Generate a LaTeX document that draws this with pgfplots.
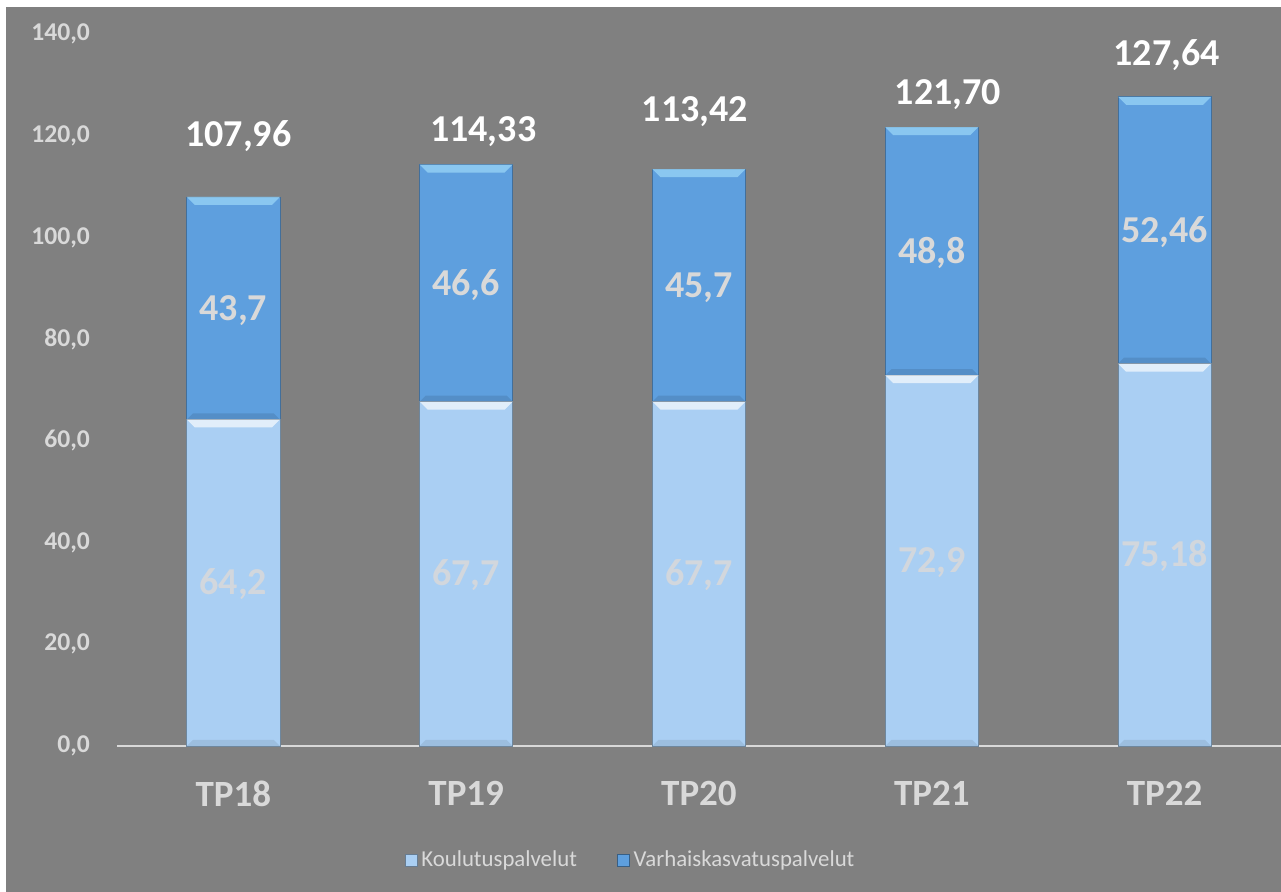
\documentclass[border=0pt]{standalone}
\usepackage{pgfplots}
\usepackage{pgfplotstable}
\pgfplotsset{compat=1.18}
\usepackage{fontspec}
\setmainfont{Carlito}

\definecolor{bggray}{RGB}{128,128,128}
\definecolor{darkblue}{RGB}{94,159,222}
\definecolor{lightblue}{RGB}{170,207,243}
\definecolor{labelgray}{RGB}{217,217,217}
\definecolor{glint}{RGB}{150,210,245}

% bevel strips for the bar edges (bar width 46.5pt)
\pgfdeclareplotmark{bevtop}{%
  \pgfpathmoveto{\pgfqpoint{-23.25pt}{0pt}}%
  \pgfpathlineto{\pgfqpoint{23.25pt}{0pt}}%
  \pgfpathlineto{\pgfqpoint{19.25pt}{-4pt}}%
  \pgfpathlineto{\pgfqpoint{-19.25pt}{-4pt}}%
  \pgfpathclose\pgfusepathqfill}
\pgfdeclareplotmark{bevbot}{%
  \pgfpathmoveto{\pgfqpoint{-23.25pt}{0pt}}%
  \pgfpathlineto{\pgfqpoint{23.25pt}{0pt}}%
  \pgfpathlineto{\pgfqpoint{20.25pt}{3pt}}%
  \pgfpathlineto{\pgfqpoint{-20.25pt}{3pt}}%
  \pgfpathclose\pgfusepathqfill}

\pgfplotstableread{
x total koulu zero
0 107.96 64.2 0
1 114.33 67.7 0
2 113.42 67.7 0
3 121.70 72.9 0
4 127.64 75.18 0
}\bars

\begin{document}
\begin{tikzpicture}
\fill[white] (0,0) rectangle (640.5pt,446pt);
\fill[bggray] (3pt,0) rectangle (640.5pt,442.5pt);
\begin{axis}[
at={(58.5pt,73pt)}, anchor=south west,
width=582pt, height=356pt, scale only axis,
clip=false,
xmin=-0.5, xmax=4.5,
ymin=0, ymax=140,
axis x line=bottom,
axis y line=left,
x axis line style={-, draw=labelgray, line width=1pt},
y axis line style={draw=none},
major tick length=0pt,
xtick={0,1,2,3,4},
xticklabels={TP18,TP19,TP20,TP21,TP22},
xticklabel style={font=\bfseries\fontsize{18.5}{20}\selectfont, text=labelgray, yshift=-14pt},
ytick={0,20,...,140},
yticklabel style={font=\bfseries\fontsize{12.8}{14}\selectfont, text=labelgray, xshift=-10pt,
  /pgf/number format/.cd, fixed, fixed zerofill, precision=1, use comma, assume math mode=true},
legend columns=2,
legend style={draw=none, fill=none, text=labelgray, font=\fontsize{11.4}{12}\selectfont,
  at={(0.442,-0.160)}, anchor=center,
  /tikz/every even column/.append style={column sep=18pt}},
legend image code/.code={\draw[#1] (0pt,-3pt) rectangle (6pt,3pt);},
]
\addlegendimage{fill=lightblue, draw=lightblue!60!black}
\addlegendentry{Koulutuspalvelut}
\addlegendimage{fill=darkblue, draw=darkblue!60!black}
\addlegendentry{Varhaiskasvatuspalvelut}

% Varhaiskasvatuspalvelut: bar reaches the total, lower part covered below
\addplot[ybar, bar width=46.5pt, bar shift=0pt, fill=darkblue, draw=darkblue!70!black, forget plot]
  table[x=x, y=total] {\bars};
% Koulutuspalvelut
\addplot[ybar, bar width=46.5pt, bar shift=0pt, fill=lightblue, draw=lightblue!65!black, forget plot]
  table[x=x, y=koulu] {\bars};

% bevel highlights and shadows
\addplot[only marks, mark=bevtop, mark options={fill=glint, fill opacity=0.8, draw=none}, forget plot]
  table[x=x, y=total] {\bars};
\addplot[only marks, mark=bevtop, mark options={fill=white, fill opacity=0.65, draw=none}, forget plot]
  table[x=x, y=koulu] {\bars};
\addplot[only marks, mark=bevbot, mark options={fill=black, fill opacity=0.10, draw=none}, forget plot]
  table[x=x, y=koulu] {\bars};
\addplot[only marks, mark=bevbot, mark options={fill=black, fill opacity=0.08, draw=none}, forget plot]
  table[x=x, y=zero] {\bars};

% totals, placed as in the source chart
\addplot[draw=none, mark=none, forget plot,
  nodes near coords, point meta=explicit symbolic,
  every node near coord/.style={font=\bfseries\fontsize{19}{20}\selectfont, text=white, anchor=base}]
table[meta=label] {
x y label
0.021 117.78 {107,96}
1.073 118.77 {114,33}
1.983 122.70 {113,42}
3.069 126.04 {121,70}
4.009 133.90 {127,64}
};
% segment labels, at segment centres
\addplot[draw=none, mark=none, forget plot,
  nodes near coords, point meta=explicit symbolic,
  every node near coord/.style={font=\bfseries\fontsize{19}{20}\selectfont, text=labelgray, anchor=base, yshift=-6pt}]
table[meta=label] {
x y label
0 86.08 {43,7}
1 91.02 {46,6}
2 90.56 {45,7}
3 97.30 {48,8}
4 101.41 {52,46}
};
\addplot[draw=none, mark=none, forget plot,
  nodes near coords, point meta=explicit symbolic,
  every node near coord/.style={font=\bfseries\fontsize{19}{20}\selectfont, text=labelgray!85!lightblue, anchor=base, yshift=-6pt}]
table[meta=label] {
x y label
0 32.10 {64,2}
1 33.85 {67,7}
2 33.85 {67,7}
3 36.45 {72,9}
4 37.59 {75,18}
};
\end{axis}
\pgfresetboundingbox
\path (0,0) rectangle (640.5pt,446pt);
\end{tikzpicture}
\end{document}
